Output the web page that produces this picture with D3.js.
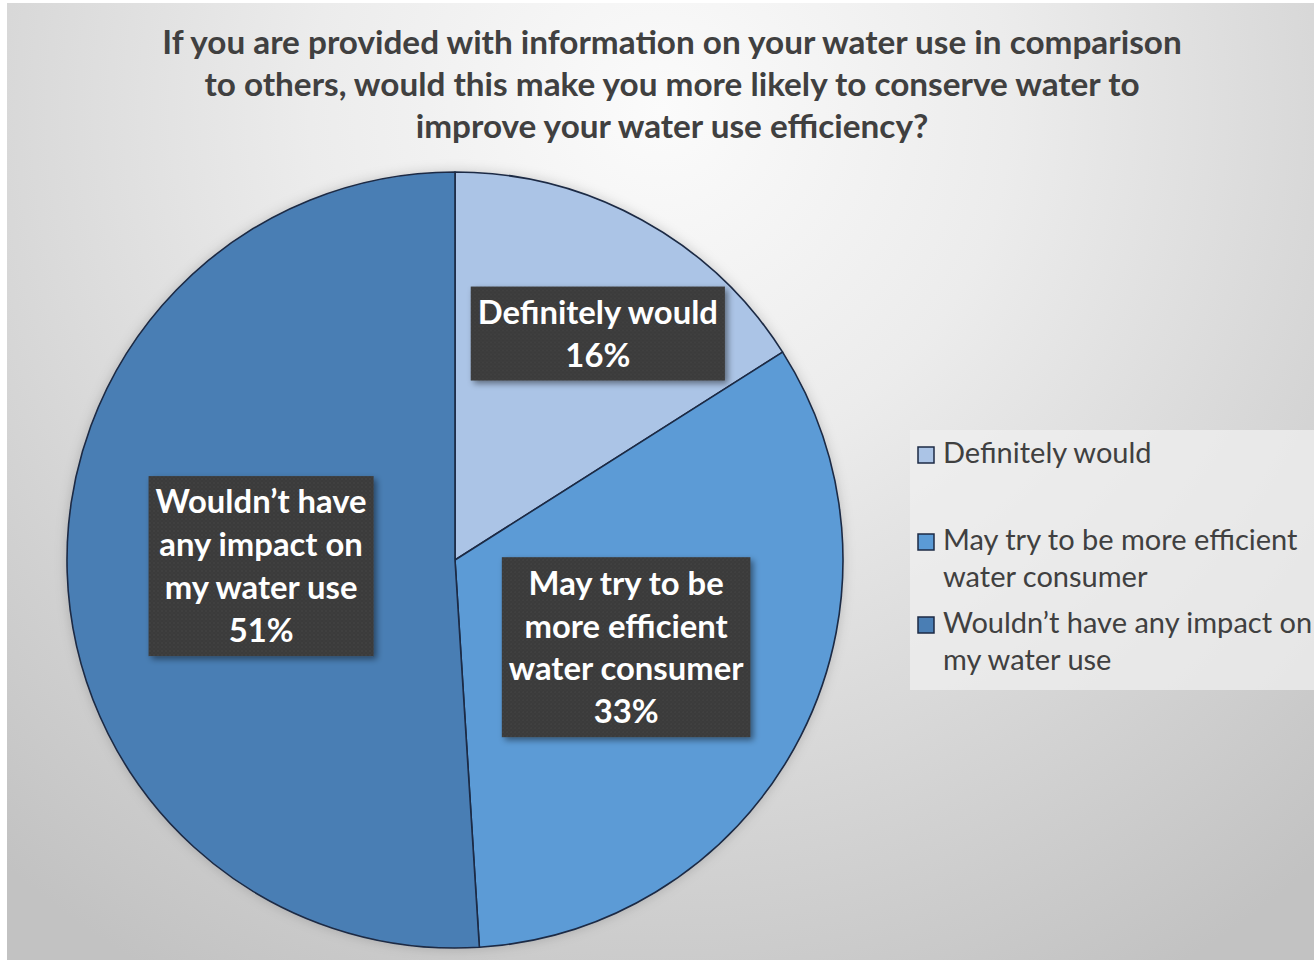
<!DOCTYPE html>
<html>
<head>
<meta charset="utf-8">
<script src="https://cdn.jsdelivr.net/npm/d3@7"></script>
<style>
  html, body { margin: 0; padding: 0; background: #ffffff; }
  svg { display: block; }
</style>
</head>
<body>
<svg id="chart" width="1314" height="960"></svg>
<script>
// Survey answers and their shares (percent)
const categories = [
  "Definitely would",
  "May try to be more efficient water consumer",
  "Wouldn't have any impact on my water use"
];
const values = [16, 33, 51];
// How each answer is wrapped inside its data label and in the legend
const labelLines = [
  ["Definitely would"],
  ["May try to be", "more efficient", "water consumer"],
  ["Wouldn\u2019t have", "any impact on", "my water use"]
];
const legendLines = [
  ["Definitely would"],
  ["May try to be more efficient", "water consumer"],
  ["Wouldn\u2019t have any impact on", "my water use"]
];
const titleLines = [
  "If you are provided with information on your water use in comparison",
  "to others, would this make you more likely to conserve water to",
  "improve your water use efficiency?"
];
const colors = ["#abc4e6", "#5b9bd6", "#4a7eb4"];

// ---- layout ----
const W = 1314, H = 960;
const cx = 455, cy = 560, R = 388;
const labelRadius = [0.69, 0.495, 0.50];   // fraction of R where each label box sits
const labelAngleNudge = [0.06, 0, 0];       // radians, clockwise
const font = "Lato, 'Open Sans', sans-serif";

const svg = d3.select("#chart");
const defs = svg.append("defs");

// soft grey backdrop, brightest under the title
const bg = defs.append("radialGradient").attr("id", "bg")
  .attr("gradientUnits", "userSpaceOnUse")
  .attr("cx", 660).attr("cy", 110).attr("r", 1000);
bg.append("stop").attr("offset", "0").attr("stop-color", "#fbfbfb");
bg.append("stop").attr("offset", "0.35").attr("stop-color", "#ececec");
bg.append("stop").attr("offset", "0.75").attr("stop-color", "#d2d2d2");
bg.append("stop").attr("offset", "1").attr("stop-color", "#c2c2c2");

// dotted texture for the dark label boxes
const pat = defs.append("pattern").attr("id", "dots")
  .attr("patternUnits", "userSpaceOnUse").attr("width", 4).attr("height", 4);
pat.append("rect").attr("width", 4).attr("height", 4).attr("fill", "#3a3a3a");
pat.append("circle").attr("cx", 1).attr("cy", 1).attr("r", 0.8).attr("fill", "#474747");
pat.append("circle").attr("cx", 3).attr("cy", 3).attr("r", 0.8).attr("fill", "#434343");

const shadow = defs.append("filter").attr("id", "shadow")
  .attr("x", "-20%").attr("y", "-20%").attr("width", "140%").attr("height", "140%");
shadow.append("feDropShadow").attr("dx", 3).attr("dy", 3).attr("stdDeviation", 3)
  .attr("flood-color", "#000").attr("flood-opacity", 0.45);

const pieShadow = defs.append("filter").attr("id", "pieShadow")
  .attr("x", "-10%").attr("y", "-10%").attr("width", "120%").attr("height", "120%");
pieShadow.append("feDropShadow").attr("dx", 0).attr("dy", 0).attr("stdDeviation", 6)
  .attr("flood-color", "#000").attr("flood-opacity", 0.18);

svg.append("rect").attr("x", 7).attr("y", 3).attr("width", W - 7).attr("height", H - 3)
  .attr("fill", "url(#bg)");

// ---- title ----
svg.append("g").selectAll("text").data(titleLines).join("text")
  .attr("x", 672).attr("y", (d, i) => 54 + i * 42)
  .attr("text-anchor", "middle")
  .attr("font-family", font).attr("font-weight", 700).attr("font-size", 33.3)
  .attr("fill", "#404040")
  .text(d => d);

// ---- pie ----
const pie = d3.pie().sort(null).value(d => d);
const arcs = pie(values);
const arc = d3.arc().innerRadius(0).outerRadius(R);

const g = svg.append("g").attr("transform", `translate(${cx},${cy})`);
g.append("g").attr("filter", "url(#pieShadow)")
  .selectAll("path").data(arcs).join("path")
  .attr("d", arc)
  .attr("fill", (d, i) => colors[i])
  .attr("stroke", "#1c2a44").attr("stroke-width", 1.6).attr("stroke-linejoin", "round");

// ---- data labels ----
const lineH = 43, padX = 7, padY = 4, labelSize = 32.8;
arcs.forEach((a, i) => {
  const ang = (a.startAngle + a.endAngle) / 2 + labelAngleNudge[i];
  const r = R * labelRadius[i];
  const lx = Math.sin(ang) * r, ly = -Math.cos(ang) * r;
  const lines = labelLines[i].concat([d3.format(".0f")(values[i]) + "%"]);
  const lg = g.append("g").attr("transform", `translate(${lx},${ly})`);
  const box = lg.append("rect").attr("fill", "url(#dots)").attr("filter", "url(#shadow)");
  const n = lines.length;
  const txt = lg.selectAll("text").data(lines).join("text")
    .attr("x", 0)
    .attr("y", (d, k) => (k - (n - 1) / 2) * lineH)
    .attr("dy", "0.36em")
    .attr("text-anchor", "middle")
    .attr("font-family", font).attr("font-weight", 700).attr("font-size", labelSize)
    .attr("fill", "#ffffff")
    .text(d => d);
  let wMax = 0;
  txt.each(function () { wMax = Math.max(wMax, this.getComputedTextLength()); });
  const bw = wMax + 2 * padX, bh = n * lineH + 2 * padY;
  box.attr("x", -bw / 2).attr("y", -bh / 2).attr("width", bw).attr("height", bh);
});

// ---- legend ----
const legend = svg.append("g");
legend.append("rect").attr("x", 910).attr("y", 430).attr("width", W - 910).attr("height", 260)
  .attr("fill", "#efefef").attr("opacity", 0.75);
const legendY = [463, 550, 633];
const legendLineH = 37;
categories.forEach((c, i) => {
  const item = legend.append("g");
  item.append("rect")
    .attr("x", 918).attr("y", legendY[i] - 16).attr("width", 16).attr("height", 16)
    .attr("fill", colors[i]).attr("stroke", "#1c2a44").attr("stroke-width", 1.5);
  item.selectAll("text").data(legendLines[i]).join("text")
    .attr("x", 943).attr("y", (d, k) => legendY[i] + k * legendLineH)
    .attr("font-family", font).attr("font-size", 29)
    .attr("fill", "#404040")
    .text(d => d);
});
</script>
</body>
</html>
